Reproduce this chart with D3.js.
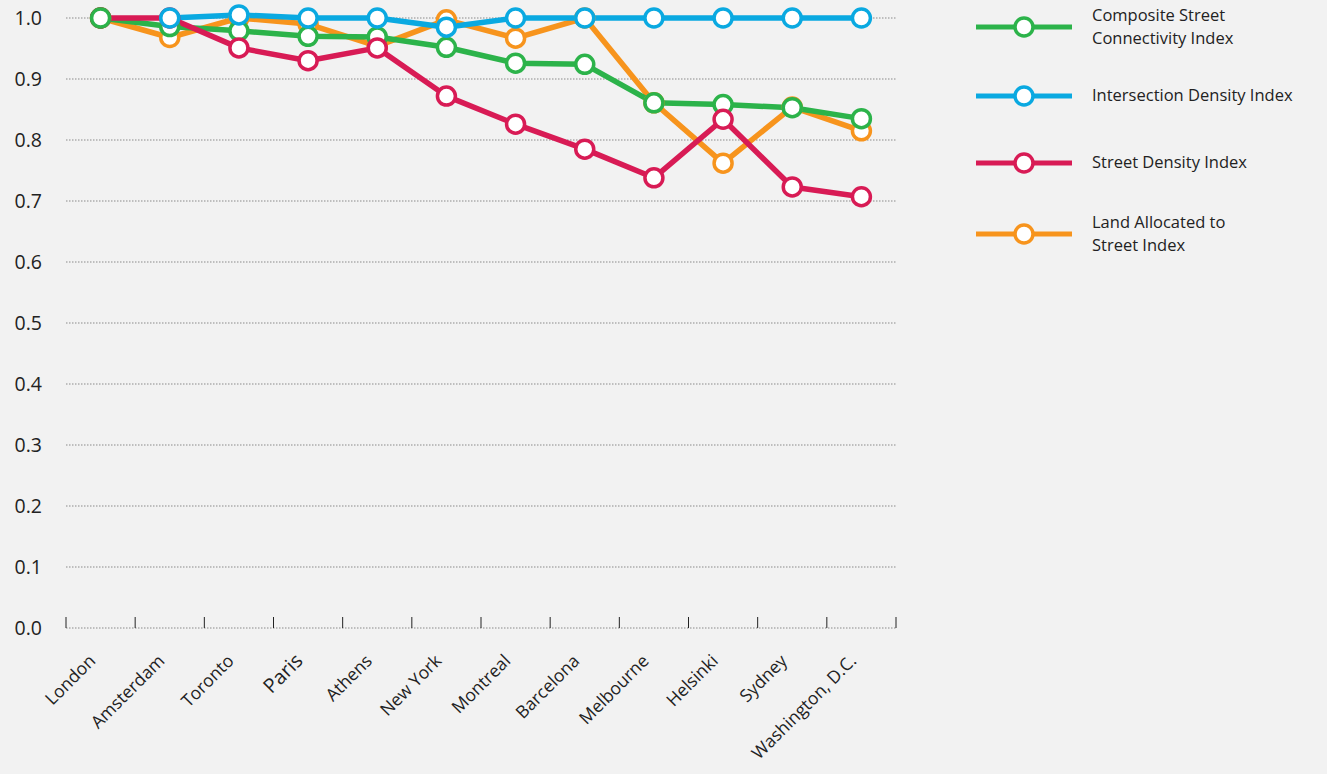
<!DOCTYPE html>
<html><head><meta charset="utf-8">
<script src="https://cdn.jsdelivr.net/npm/d3@7"></script>
<style>
html,body{margin:0;padding:0;background:#f2f2f2;}
svg{display:block;font-family:"Open Sans",Lato,sans-serif;}
</style></head>
<body><svg id="chart" width="1327" height="774"></svg>
<script>
const cities = ["London","Amsterdam","Toronto","Paris","Athens","New York","Montreal","Barcelona","Melbourne","Helsinki","Sydney","Washington, D.C."];
const yTicks = [0,0.1,0.2,0.3,0.4,0.5,0.6,0.7,0.8,0.9,1.0];
const composite   = [1.0,0.986,0.979,0.970,0.969,0.952,0.926,0.924,0.861,0.858,0.853,0.835];
const intersection= [null,1.0,1.005,1.0,1.0,0.985,1.0,1.0,1.0,1.0,1.0,1.0];
const streetDens  = [1.0,1.0,0.951,0.930,0.951,0.872,0.826,0.785,0.738,0.834,0.723,0.707];
const landAlloc   = [1.0,0.968,1.0,0.990,0.954,0.997,0.967,1.0,0.861,0.762,0.854,0.815];
const seriesNames = ["Composite Street|Connectivity Index","Intersection Density Index","Street Density Index","Land Allocated to|Street Index"];
const colors = ["#2cb34a","#0aa9e1","#d81b55","#f7941d"];

const svg = d3.select("#chart");
const x = d3.scaleBand().domain(cities).range([66,896]);
const y = d3.scaleLinear().domain([0,1]).range([628,18]);

svg.append("g").selectAll("line").data(yTicks).join("line")
  .attr("x1",66).attr("x2",896).attr("y1",d=>y(d)).attr("y2",d=>y(d))
  .attr("stroke","#8a8a8a").attr("stroke-width",1).attr("stroke-dasharray","1.5,1.5");

svg.append("g").selectAll("text").data(yTicks).join("text")
  .attr("x",42).attr("y",d=>y(d)).attr("dy","0.36em").attr("text-anchor","end")
  .attr("font-size",19.5).attr("fill","#222").text(d=>d.toFixed(1));

const bounds = cities.map(c=>x(c)).concat([x.range()[1]]);
svg.append("g").selectAll("line").data(bounds).join("line")
  .attr("x1",d=>d).attr("x2",d=>d).attr("y1",617).attr("y2",628)
  .attr("stroke","#222").attr("stroke-width",1);

svg.append("g").selectAll("text").data(cities).join("text")
  .attr("transform",d=>`translate(${x(d)+x.bandwidth()/2-4},${662}) rotate(-45)`)
  .attr("text-anchor","end").attr("font-size",d=>d==="Paris"?20:17.5).attr("fill","#222")
  .text(d=>d);

const data = [composite,intersection,streetDens,landAlloc];
const cx = i => x(cities[i]) + x.bandwidth()/2;
const line = d3.line().defined(d=>d!=null).x((d,i)=>cx(i)).y(d=>y(d));

[3,0,1,2].forEach(s=>{
  svg.append("path").datum(data[s]).attr("d",line)
    .attr("fill","none").attr("stroke",colors[s]).attr("stroke-width",5.5).attr("stroke-linejoin","round");
});
[3,0,2,1].forEach(s=>{
  svg.append("g").selectAll("circle").data(data[s].map((v,i)=>({v,i})).filter(d=>d.v!=null)).join("circle")
    .attr("cx",d=>cx(d.i)).attr("cy",d=>y(d.v)).attr("r",9)
    .attr("fill","#fff").attr("stroke",colors[s]).attr("stroke-width",3.5);
});
svg.append("circle").attr("cx",cx(0)).attr("cy",y(composite[0])).attr("r",9)
  .attr("fill","#fff").attr("stroke",colors[0]).attr("stroke-width",3.5);

const legY = [27,96,163,234];
const leg = svg.append("g");
seriesNames.forEach((n,k)=>{
  const g = leg.append("g").attr("transform",`translate(0,${legY[k]})`);
  g.append("line").attr("x1",976).attr("x2",1072).attr("y1",0).attr("y2",0)
    .attr("stroke",colors[k]).attr("stroke-width",5);
  g.append("circle").attr("cx",1024).attr("cy",0).attr("r",9)
    .attr("fill","#fff").attr("stroke",colors[k]).attr("stroke-width",3.5);
  const parts = n.split("|");
  parts.forEach((p,j)=>{
    g.append("text").attr("x",1092).attr("font-size",16.5).attr("fill","#222")
      .attr("y", parts.length===1 ? 0 : (j===0?-10.5:12.2))
      .attr("dy","0.3em").text(p);
  });
});
</script></body></html>
